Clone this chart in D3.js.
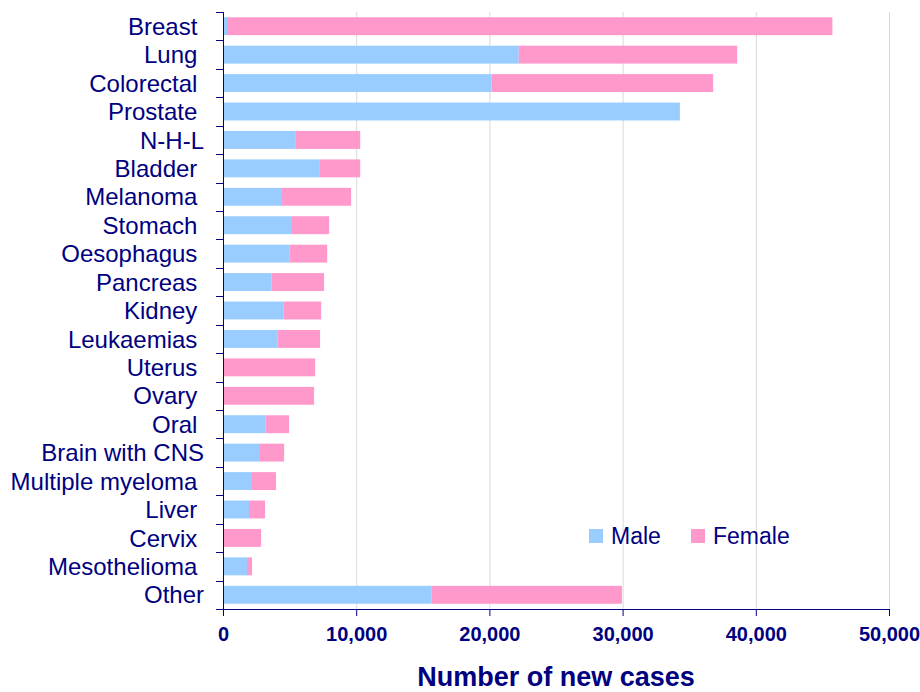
<!DOCTYPE html>
<html>
<head>
<meta charset="utf-8">
<script src="https://cdn.jsdelivr.net/npm/d3@7"></script>
<style>
  body { margin: 0; background: #fff; }
  text { font-family: Arial, "Liberation Sans", sans-serif; fill: #000080; }
  .cat text { white-space: pre; }
</style>
</head>
<body>
<div id="chart"></div>
<script>
(function(){
    // categories (trailing spaces as in the original labels)
    var sites = ["Breast ", "Lung ", "Colorectal ", "Prostate ", "N-H-L", "Bladder ", "Melanoma ",
        "Stomach ", "Oesophagus ", "Pancreas ", "Kidney ", "Leukaemias ", "Uterus ", "Ovary ",
        "Oral ", "Brain with CNS", "Multiple myeloma ", "Liver ", "Cervix ", "Mesothelioma ", "Other"];
    var male = [300, 22200, 20150, 34300, 5470, 7270, 4360, 5110, 5010, 3660, 4560, 4110,
        0, 0, 3210, 2710, 2110, 1950, 0, 1800, 15640];
    var female = [45450, 16400, 16650, 0, 4830, 3030, 5260, 2860, 2810, 3930, 2810, 3180,
        6920, 6840, 1750, 1880, 1870, 1210, 2860, 380, 14310];
    var xTicks = [0, 10000, 20000, 30000, 40000, 50000];
    var seriesNames = ["Male", "Female"];
    var colors = ["#99CCFF", "#FF99CC"];

    var width = 920, height = 692;
    var left = 223, right = 889, top = 12, bottom = 609;

    var svg = d3.select("#chart").append("svg")
        .attr("width", width)
        .attr("height", height);

    var rows = sites.map(function(s, i){
        return { site: s, Male: male[i], Female: female[i] };
    });

    var x = d3.scaleLinear().domain([0, 50000]).range([left, right]);
    var y = d3.scaleBand().domain(sites).range([top, bottom]).paddingInner(0.37).paddingOuter(0.185);
    var yEdge = d3.scaleLinear().domain([0, sites.length]).range([top, bottom]);

    // gridlines
    svg.append("g").selectAll("line")
        .data(xTicks.slice(1))
        .enter().append("line")
        .attr("x1", function(d){ return x(d) + 0.5 })
        .attr("x2", function(d){ return x(d) + 0.5 })
        .attr("y1", top)
        .attr("y2", bottom)
        .attr("stroke", "#d9d9d9")
        .attr("stroke-width", 1)

    // stacked bars
    var stack = d3.stack().keys(seriesNames)(rows);
    svg.append("g").selectAll("g")
        .data(stack)
        .enter().append("g")
        .attr("fill", function(d, i){ return colors[i] })
        .selectAll("rect")
        .data(function(d){ return d })
        .enter().append("rect")
        .attr("x", function(d){ return x(d[0]) })
        .attr("width", function(d){ return x(d[1]) - x(d[0]) })
        .attr("y", function(d){ return y(d.data.site) })
        .attr("height", y.bandwidth())

    // y axis: line with ticks at category boundaries
    var yAxis = svg.append("g").attr("class", "cat");
    yAxis.append("line")
        .attr("x1", left + 0.5).attr("x2", left + 0.5)
        .attr("y1", top).attr("y2", bottom)
        .attr("stroke", "#000080")
    yAxis.selectAll(".tk")
        .data(d3.range(sites.length + 1))
        .enter().append("line")
        .attr("class", "tk")
        .attr("x1", left - 7).attr("x2", left)
        .attr("y1", function(d){ return Math.round(yEdge(d)) + 0.5 })
        .attr("y2", function(d){ return Math.round(yEdge(d)) + 0.5 })
        .attr("stroke", "#000080")
    yAxis.selectAll("text")
        .data(sites)
        .enter().append("text")
        .attr("x", 204)
        .attr("y", function(d){ return y(d) + y.bandwidth() / 2 })
        .attr("dy", "0.36em")
        .attr("text-anchor", "end")
        .style("font-size", "24px")
        .text(function(d){ return d })

    // x axis
    var xAxis = svg.append("g")
        .attr("transform", "translate(0," + bottom + ")")
        .call(d3.axisBottom(x).tickValues(xTicks).tickSize(7).tickSizeOuter(0).tickFormat(d3.format(",")))
    xAxis.select(".domain").attr("stroke", "#000080")
    xAxis.selectAll(".tick line").attr("stroke", "#000080")
    xAxis.selectAll(".tick text")
        .attr("y", 25)
        .attr("dy", "0.36em")
        .style("font-size", "20px")
        .style("font-weight", "bold")
        .attr("fill", "#000080")

    svg.append("text")
        .attr("x", (left + right) / 2)
        .attr("y", 686)
        .attr("text-anchor", "middle")
        .style("font-size", "27px")
        .style("font-weight", "bold")
        .text("Number of new cases")

    // legend
    var legendX = [589, 691];
    var legend = svg.append("g").selectAll("g")
        .data(seriesNames)
        .enter().append("g")
        .attr("transform", function(d, i){ return "translate(" + legendX[i] + ",529)" })
    legend.append("rect")
        .attr("width", 14).attr("height", 14)
        .attr("fill", function(d, i){ return colors[i] })
    legend.append("text")
        .attr("x", 22).attr("y", 7)
        .attr("dy", "0.36em")
        .style("font-size", "23px")
        .text(function(d){ return d })
})();
</script>
</body>
</html>
